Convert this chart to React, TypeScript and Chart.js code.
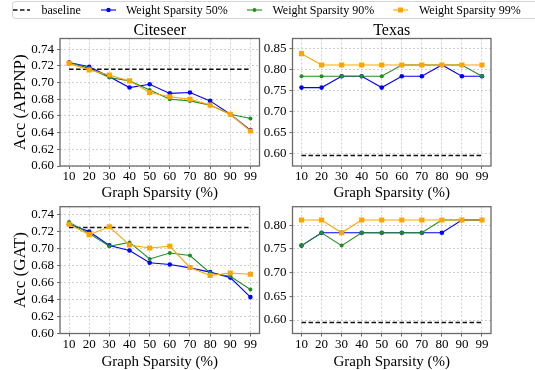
import React, { useEffect, useRef } from "react";
import { Chart, registerables } from "chart.js";

Chart.register(...registerables);

const FONT = '"Liberation Serif", "Times New Roman", serif';
Chart.defaults.font.family = FONT;

// ---------- data ----------
const categories = ["10", "20", "30", "40", "50", "60", "70", "80", "90", "99"];
const seriesLabels = ["baseline", "Weight Sparsity 50%", "Weight Sparsity 90%", "Weight Sparsity 99%"];
const xTitle = "Graph Sparsity (%)";

const citeseerTicks = [0.6, 0.62, 0.64, 0.66, 0.68, 0.7, 0.72, 0.74];
const texasAppnpTicks = [0.6, 0.65, 0.7, 0.75, 0.8, 0.85];
const texasGatTicks = [0.6, 0.65, 0.7, 0.75, 0.8];

const citeseerAppnpBaseline = 0.716;
const citeseerAppnp50 = [0.724, 0.719, 0.707, 0.694, 0.698, 0.687, 0.688, 0.678, 0.662, 0.643];
const citeseerAppnp90 = [0.724, 0.717, 0.706, 0.702, 0.691, 0.68, 0.678, 0.673, 0.662, 0.657];
const citeseerAppnp99 = [0.723, 0.715, 0.709, 0.702, 0.688, 0.683, 0.68, 0.673, 0.662, 0.642];

const texasAppnpBaseline = 0.5946;
const texasAppnp50 = [0.7568, 0.7568, 0.7838, 0.7838, 0.7568, 0.7838, 0.7838, 0.8108, 0.7838, 0.7838];
const texasAppnp90 = [0.7838, 0.7838, 0.7838, 0.7838, 0.7838, 0.8108, 0.8108, 0.8108, 0.8108, 0.7838];
const texasAppnp99 = [0.8378, 0.8108, 0.8108, 0.8108, 0.8108, 0.8108, 0.8108, 0.8108, 0.8108, 0.8108];

const citeseerGatBaseline = 0.725;
const citeseerGat50 = [0.729, 0.7205, 0.704, 0.698, 0.6835, 0.6815, 0.6775, 0.6725, 0.666, 0.643];
const citeseerGat90 = [0.7315, 0.718, 0.703, 0.7075, 0.688, 0.695, 0.692, 0.6715, 0.6675, 0.652];
const citeseerGat99 = [0.729, 0.7167, 0.726, 0.7045, 0.701, 0.703, 0.678, 0.6685, 0.6715, 0.67];

const texasGatBaseline = 0.5946;
const texasGat50 = [0.7568, 0.7838, 0.7838, 0.7838, 0.7838, 0.7838, 0.7838, 0.7838, 0.8108, 0.8108];
const texasGat90 = [0.7568, 0.7838, 0.7568, 0.7838, 0.7838, 0.7838, 0.7838, 0.8108, 0.8108, 0.8108];
const texasGat99 = [0.8108, 0.8108, 0.7838, 0.8108, 0.8108, 0.8108, 0.8108, 0.8108, 0.8108, 0.8108];

// ---------- style ----------
const BLUE = "#0000ff";
const GREEN = "#1f8f1f";
const ORANGE = "#ffa500";
const FRAME = "#6a6a6a";
const GRID = "#c4c4c4";

type PanelProps = {
  left: number;
  top: number;
  width: number;
  height: number;
  padTop: number;
  padRight: number;
  yWidth: number;
  xHeight: number;
  yMin: number;
  yMax: number;
  yTicks: number[];
  yTitle?: string;
  baseline: number;
  s50: number[];
  s90: number[];
  s99: number[];
};

function Panel(p: PanelProps) {
  const ref = useRef<HTMLCanvasElement>(null);
  useEffect(() => {
    if (!ref.current) return;
    const framePlugin = {
      id: "frame",
      afterDraw(chart: any) {
        const { ctx, chartArea: a } = chart;
        ctx.save();
        ctx.strokeStyle = FRAME;
        ctx.lineWidth = 1.3;
        ctx.setLineDash([]);
        ctx.strokeRect(a.left, a.top, a.right - a.left, a.bottom - a.top);
        ctx.restore();
      },
    };
    const pts = (arr: number[]) => arr.map((v, i) => ({ x: i, y: v }));
    const gridOpts = {
      color: GRID,
      lineWidth: 0.8,
      tickLength: 3,
      tickColor: FRAME,
      tickBorderDash: [],
      tickWidth: 1,
    };
    const chart = new Chart(ref.current, {
      type: "line",
      data: {
        datasets: [
          {
            label: seriesLabels[0],
            data: categories.map((_, i) => ({ x: i, y: p.baseline })),
            borderColor: "#111",
            borderDash: [4.5, 2.5],
            borderWidth: 1.5,
            pointRadius: 0,
            order: 4,
          },
          {
            label: seriesLabels[1],
            data: pts(p.s50),
            borderColor: BLUE,
            backgroundColor: BLUE,
            borderWidth: 1.1,
            pointRadius: 2.3,
            pointBorderWidth: 0,
            pointStyle: "circle",
            order: 3,
          },
          {
            label: seriesLabels[2],
            data: pts(p.s90),
            borderColor: GREEN,
            backgroundColor: GREEN,
            borderWidth: 1.1,
            pointRadius: 2,
            pointBorderWidth: 0,
            pointStyle: "circle",
            order: 2,
          },
          {
            label: seriesLabels[3],
            data: pts(p.s99),
            borderColor: ORANGE,
            backgroundColor: ORANGE,
            borderWidth: 1.1,
            pointRadius: 3.6,
            pointBorderWidth: 0,
            pointStyle: "rect",
            order: 1,
          },
        ],
      } as any,
      options: {
        responsive: false,
        animation: false,
        events: [],
        layout: { padding: { top: p.padTop, right: p.padRight, left: 0, bottom: 0 } },
        plugins: { legend: { display: false }, tooltip: { enabled: false }, title: { display: false } },
        scales: {
          x: {
            type: "linear",
            min: -0.45,
            max: 9.45,
            afterBuildTicks: (s: any) => {
              s.ticks = categories.map((_, i) => ({ value: i }));
            },
            afterFit: (s: any) => {
              s.height = p.xHeight;
            },
            ticks: {
              callback: (_v: any, i: number) => categories[i],
              font: { size: 13 },
              color: "#000",
              padding: 0,
              maxRotation: 0,
              autoSkip: false,
            },
            grid: gridOpts as any,
            border: { display: false, dash: [2, 2] },
            title: { display: true, text: xTitle, font: { size: 15 }, color: "#000", padding: 0 },
          },
          y: {
            type: "linear",
            min: p.yMin,
            max: p.yMax,
            afterBuildTicks: (s: any) => {
              s.ticks = p.yTicks.map((v) => ({ value: v }));
            },
            afterFit: (s: any) => {
              s.width = p.yWidth;
            },
            ticks: {
              callback: (v: any) => Number(v).toFixed(2),
              font: { size: 13 },
              color: "#000",
              padding: 3,
              autoSkip: false,
            },
            grid: gridOpts as any,
            border: { display: false, dash: [2, 2] },
            title: {
              display: !!p.yTitle,
              text: p.yTitle || "",
              font: { size: 17 },
              color: "#000",
              padding: { top: 10, bottom: 0 },
            },
          },
        },
      } as any,
      plugins: [framePlugin],
    });
    return () => chart.destroy();
  }, []);
  return (
    <canvas
      ref={ref}
      width={p.width}
      height={p.height}
      style={{ position: "absolute", left: p.left, top: p.top, width: p.width, height: p.height }}
    />
  );
}

function Swatch({ color, kind }: { color: string; kind: "dash" | "circle" | "small" | "square" }) {
  return (
    <svg width={17} height={10} style={{ display: "block" }}>
      {kind === "dash" ? (
        <line x1={0} y1={5} x2={17} y2={5} stroke="#111" strokeWidth={1.5} strokeDasharray="4.5 2.5" />
      ) : (
        <line x1={1} y1={5} x2={16} y2={5} stroke={color} strokeWidth={1.1} />
      )}
      {kind === "circle" && <circle cx={8.5} cy={5} r={2.2} fill={color} />}
      {kind === "small" && <circle cx={8.5} cy={5} r={1.9} fill={color} />}
      {kind === "square" && <rect x={6} y={2.5} width={5} height={5} fill={color} />}
    </svg>
  );
}

function Legend() {
  const items: { sx: number; tx: number; color: string; kind: any; label: string }[] = [
    { sx: 13, tx: 41.5, color: "#111", kind: "dash", label: seriesLabels[0] },
    { sx: 99.5, tx: 126, color: BLUE, kind: "circle", label: seriesLabels[1] },
    { sx: 246, tx: 272.5, color: GREEN, kind: "small", label: seriesLabels[2] },
    { sx: 392, tx: 419, color: ORANGE, kind: "square", label: seriesLabels[3] },
  ];
  return (
    <div
      style={{
        position: "absolute",
        left: 11.5,
        top: 0.5,
        width: 530,
        height: 18,
        border: "1px solid #d4d4d4",
        borderRadius: 3,
        background: "#fff",
        boxSizing: "border-box",
      }}
    >
      {items.map((it, k) => (
        <React.Fragment key={k}>
          <div style={{ position: "absolute", left: it.sx - 12.5, top: 3.5 }}>
            <Swatch color={it.color} kind={it.kind} />
          </div>
          <div
            style={{
              position: "absolute",
              left: it.tx - 12.5,
              top: 0,
              fontFamily: FONT,
              fontSize: 12,
              lineHeight: "16px",
              color: "#000",
              whiteSpace: "nowrap",
            }}
          >
            {it.label}
          </div>
        </React.Fragment>
      ))}
    </div>
  );
}

function Title({ text, cx }: { text: string; cx: number }) {
  return (
    <div
      style={{
        position: "absolute",
        left: cx - 100,
        width: 200,
        top: 19.6,
        textAlign: "center",
        fontFamily: FONT,
        fontSize: 16,
        lineHeight: "20px",
        color: "#000",
      }}
    >
      {text}
    </div>
  );
}

export default function App() {
  return (
    <div style={{ position: "absolute", left: 0, top: 0, width: 535, height: 370, background: "#fff", overflow: "hidden" }}>
      <Panel
        left={0}
        top={26}
        width={265}
        height={176}
        padTop={12.5}
        padRight={5.5}
        yWidth={60}
        xHeight={36}
        yMin={0.6}
        yMax={0.7528}
        yTicks={citeseerTicks}
        yTitle="Acc (APPNP)"
        baseline={citeseerAppnpBaseline}
        s50={citeseerAppnp50}
        s90={citeseerAppnp90}
        s99={citeseerAppnp99}
      />
      <Panel
        left={262}
        top={26}
        width={234}
        height={176}
        padTop={12.5}
        padRight={5}
        yWidth={30.5}
        xHeight={36}
        yMin={0.5696}
        yMax={0.874}
        yTicks={texasAppnpTicks}
        baseline={texasAppnpBaseline}
        s50={texasAppnp50}
        s90={texasAppnp90}
        s99={texasAppnp99}
      />
      <Panel
        left={0}
        top={194}
        width={265}
        height={177}
        padTop={12.7}
        padRight={5.5}
        yWidth={60}
        xHeight={37.5}
        yMin={0.6}
        yMax={0.7497}
        yTicks={citeseerTicks}
        yTitle="Acc (GAT)"
        baseline={citeseerGatBaseline}
        s50={citeseerGat50}
        s90={citeseerGat90}
        s99={citeseerGat99}
      />
      <Panel
        left={262}
        top={194}
        width={234}
        height={177}
        padTop={12.7}
        padRight={5}
        yWidth={30.5}
        xHeight={37.5}
        yMin={0.5716}
        yMax={0.8388}
        yTicks={texasGatTicks}
        baseline={texasGatBaseline}
        s50={texasGat50}
        s90={texasGat90}
        s99={texasGat99}
      />
      <Title text="Citeseer" cx={159.75} />
      <Title text="Texas" cx={391.75} />
      <Legend />
    </div>
  );
}
